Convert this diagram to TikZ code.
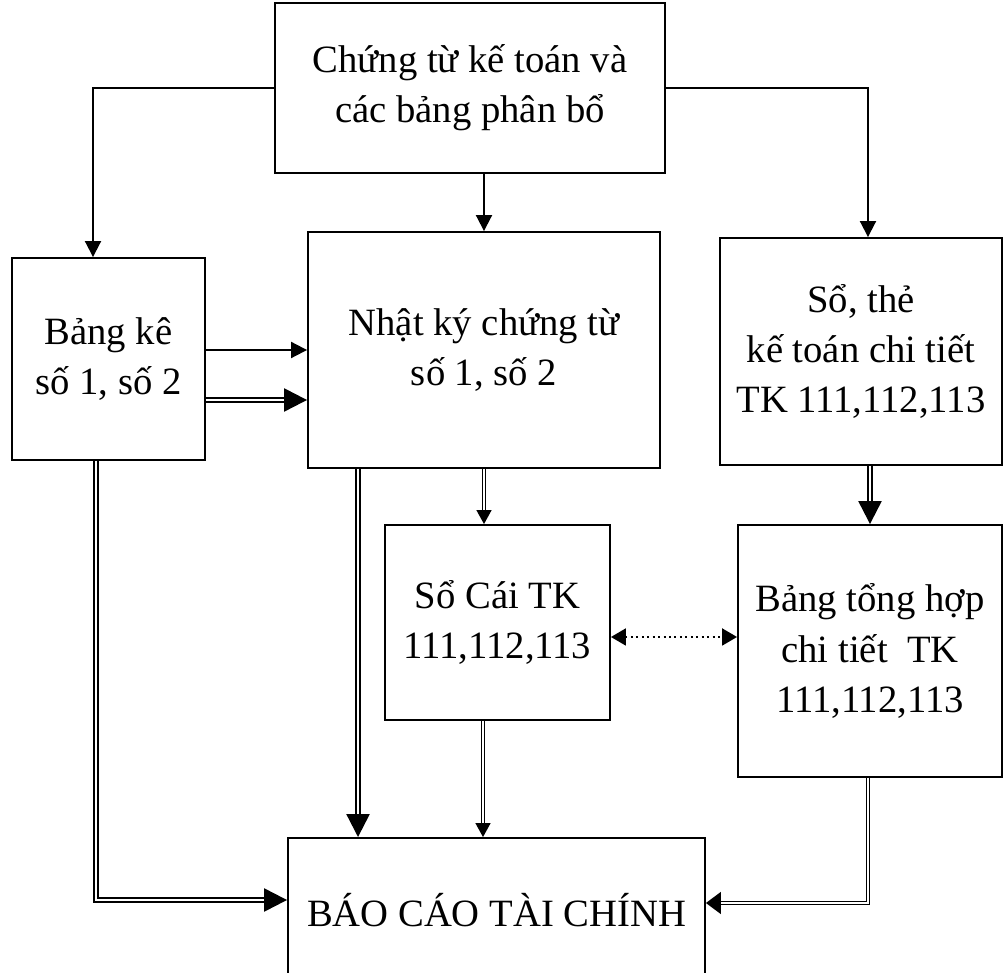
\documentclass[tikz,border=0pt]{standalone}
\usepackage{fontspec}
\setmainfont{Liberation Serif}
\usetikzlibrary{positioning, arrows.meta}

\tikzset{
  box/.style={draw, line width=1.1pt, align=center, inner sep=2pt},
  sarr/.style={line width=1.1pt, -{Triangle[length=0.32cm,width=0.32cm]}},
  dbig/.style={double, line width=1.3pt, double distance=1.3pt, -{Triangle[length=0.46cm,width=0.46cm]}},
  dthin/.style={double, line width=0.8pt, double distance=1.1pt, -{Triangle[length=0.28cm,width=0.3cm]}},
  dthinw/.style={dthin, -{Triangle[length=0.3cm,width=0.44cm]}},
  dots/.style={dotted, line width=1.1pt, {Triangle[length=0.3cm,width=0.34cm]}-{Triangle[length=0.3cm,width=0.34cm]}}
}

\begin{document}
\begin{tikzpicture}[x=0.02cm, y=-0.02cm, font=\fontsize{22}{28.5}\selectfont]
        \path[use as bounding box, clip] (0,0) rectangle (1005,973);

        % boxes
        \node[box, minimum width=7.8cm, minimum height=3.4cm] (chung) at (470,88)
          {Chứng từ kế toán và\\ các bảng phân bổ};
        \node[box, minimum width=3.86cm, minimum height=4.04cm] (bangke) at (108.5,359)
          {Bảng kê\\ số 1, số 2};
        \node[box, minimum width=7.04cm, minimum height=4.72cm] (nhatky) at (484,350)
          {Nhật ký chứng từ\\ số 1, số 2};
        \node[box, minimum width=5.64cm, minimum height=4.54cm] (sothe) at (861,351.5)
          {Sổ, thẻ\\ kế toán chi tiết\\ TK 111,112,113};
        \node[box, minimum width=4.5cm, minimum height=3.9cm] (socai) at (497.5,622.5)
          {Sổ Cái TK\\ 111,112,113};
        \node[box, minimum width=5.28cm, minimum height=5.04cm] (tonghop) at (870,651)
          {Bảng tổng hợp\\ chi tiết~ TK\\ 111,112,113};
        \node[box, minimum width=8.34cm, minimum height=2.88cm] (baocao) at (496.5,910)
          {BÁO CÁO TÀI CHÍNH};

        % from the top box
        \draw[sarr] (chung.west) -| ([xshift=-0.31cm]bangke.north);
        \draw[sarr] (chung.south -| nhatky.north) -- (nhatky.north);
        \draw[sarr] (chung.east) -| ([xshift=0.14cm]sothe.north);

        % bang ke -> nhat ky
        \draw[sarr] (bangke.east |- nhatky.west) -- (nhatky.west);
        \draw[dbig] ([yshift=-0.82cm]bangke.east) -- ([yshift=-0.82cm]bangke.east -| nhatky.west);

        % middle column
        \draw[dthin] (nhatky.south) -- (nhatky.south |- socai.north);
        \draw[dbig] ([xshift=-2.52cm]nhatky.south) -- ([xshift=-2.52cm]nhatky.south |- baocao.north);
        \draw[dthin] ([xshift=-0.29cm]socai.south) -- ([xshift=-0.29cm]socai.south |- baocao.north);

        % right column
        \draw[dbig] (tonghop.north |- sothe.south) -- (tonghop.north);
        \draw[dots] ([yshift=-0.29cm]socai.east) -- ([yshift=-0.29cm]socai.east -| tonghop.west);

        % into the report
        \draw[dbig] ([xshift=-0.25cm]bangke.south) |- ([yshift=0.2cm]baocao.west);
        \draw[dthinw] ([xshift=-0.04cm]tonghop.south) |- ([yshift=0.14cm]baocao.east);
      \end{tikzpicture}
\end{document}
